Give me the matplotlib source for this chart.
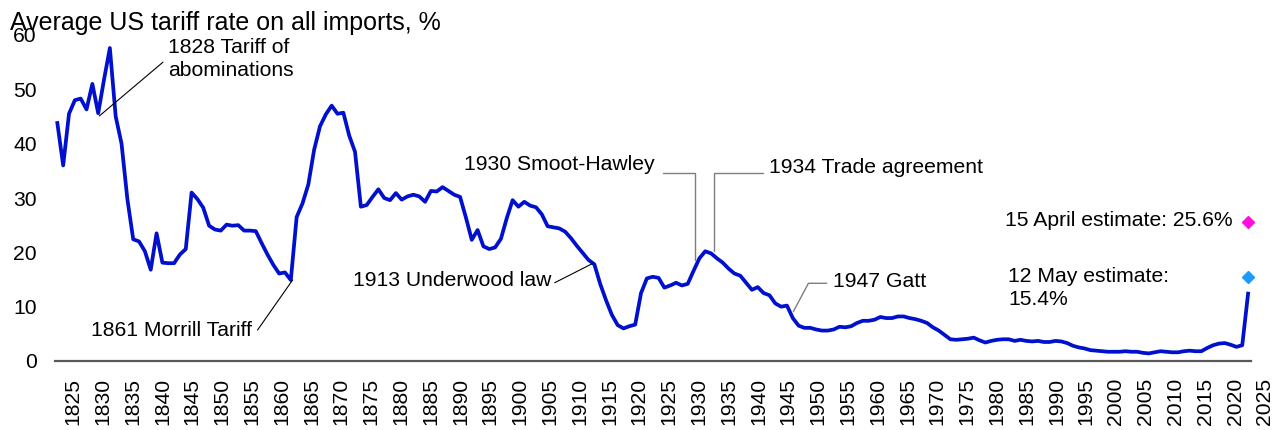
import numpy as np
import matplotlib.pyplot as plt

# Average US tariff rate on all imports, % (1821-2025)
years = np.arange(1821, 2026)
tariff = [
    43.8, 36.0, 45.5, 48.0, 48.3, 46.3, 51.0, 45.6, 51.8, 57.6,   # 1821-1830
    45.0, 40.0, 29.8, 22.4, 22.0, 20.2, 16.8, 23.5, 18.1, 18.0,   # 1831-1840
    18.0, 19.6, 20.6, 31.0, 29.8, 28.2, 24.9, 24.2, 24.0, 25.1,   # 1841-1850
    24.9, 25.0, 24.0, 24.0, 23.9, 21.7, 19.6, 17.7, 16.1, 16.3,   # 1851-1860
    14.9, 26.5, 29.0, 32.5, 38.9, 43.2, 45.4, 47.0, 45.5, 45.7,   # 1861-1870
    41.5, 38.5, 28.4, 28.7, 30.2, 31.6, 30.0, 29.6, 30.9, 29.7,   # 1871-1880
    30.3, 30.6, 30.3, 29.3, 31.3, 31.2, 32.0, 31.3, 30.6, 30.2,   # 1881-1890
    26.4, 22.3, 24.1, 21.1, 20.6, 20.9, 22.5, 26.3, 29.6, 28.4,   # 1891-1900
    29.3, 28.6, 28.3, 27.0, 24.8, 24.6, 24.4, 23.8, 22.6, 21.2,   # 1901-1910
    19.9, 18.6, 17.8, 14.2, 11.2, 8.5, 6.6, 6.0, 6.4, 6.7,        # 1911-1920
    12.5, 15.2, 15.5, 15.3, 13.5, 13.9, 14.4, 13.9, 14.2, 16.6,   # 1921-1930
    18.9, 20.2, 19.8, 18.9, 18.1, 17.0, 16.1, 15.7, 14.4, 13.1,   # 1931-1940
    13.6, 12.5, 12.1, 10.6, 10.0, 10.2, 7.9, 6.5, 6.1, 6.1,       # 1941-1950
    5.8, 5.6, 5.6, 5.8, 6.3, 6.2, 6.4, 7.0, 7.4, 7.4,             # 1951-1960
    7.6, 8.1, 7.9, 7.9, 8.2, 8.2, 7.9, 7.7, 7.4, 7.0,             # 1961-1970
    6.2, 5.6, 4.8, 4.0, 3.9, 4.0, 4.1, 4.3, 3.8, 3.4,             # 1971-1980
    3.7, 3.9, 4.0, 4.0, 3.7, 3.9, 3.7, 3.6, 3.7, 3.5,             # 1981-1990
    3.5, 3.7, 3.6, 3.3, 2.8, 2.5, 2.3, 2.0, 1.9, 1.8,             # 1991-2000
    1.7, 1.7, 1.7, 1.8, 1.7, 1.7, 1.5, 1.4, 1.6, 1.8,             # 2001-2010
    1.7, 1.6, 1.6, 1.8, 1.9, 1.8, 1.8, 2.4, 2.9, 3.2,             # 2011-2020
    3.3, 3.0, 2.6, 2.9, 12.4,                                     # 2021-2025
]

# 2025 estimates (diamonds)
estimate_year = 2025
estimate_values = [25.6, 15.4]
estimate_labels = ['15 April estimate: 25.6%', '12 May estimate:\n15.4%']
estimate_colors = ['#FF10D8', '#1A9BFF']

y_ticks = list(range(0, 61, 10))
x_ticks = list(range(1825, 2026, 5))

FS = 15.2
LINE_BLUE = '#0010CC'
GREY = '#7f7f7f'

plt.rcParams['font.family'] = ['Liberation Sans', 'DejaVu Sans']

W, H = 1276, 430
fig = plt.figure(figsize=(W / 100, H / 100), dpi=100)

# the year labels in the original sit on their own evenly spaced scale,
# slightly wider than the plotted series, so they get a frameless axes of their own
lab = fig.add_axes([55 / W, 1 - 361 / H, (W - 55) / W, (361 - 35) / H], frameon=False)
lab.set_xlim(1821.98, 2026.85)
lab.set_xticks(x_ticks)
lab.set_xticklabels([str(x) for x in x_ticks], rotation=90)
lab.set_yticks([])
lab.tick_params(axis='x', length=0, pad=12, labelsize=FS)

ax = fig.add_axes([55 / W, 1 - 361 / H, (1251 - 55) / W, (361 - 35) / H])
ax.patch.set_visible(False)

ax.plot(years, tariff, color=LINE_BLUE, lw=2.7, solid_joinstyle='round')
for val, col in zip(estimate_values, estimate_colors):
    ax.plot(estimate_year, val, 'D', color=col, ms=6.3, mec=col, clip_on=False, zorder=5)

ax.set_xlim(1820.6, 2025.5)
ax.set_ylim(0, 60)
ax.set_yticks(y_ticks)
ax.set_xticks([])
ax.tick_params(axis='y', length=0, pad=13, labelsize=FS)
for s in ['top', 'right', 'left']:
    ax.spines[s].set_visible(False)
ax.spines['bottom'].set_color('#595959')
ax.spines['bottom'].set_linewidth(1.6)

# annotations with thin black leader lines
thin = dict(arrowstyle='-', color='black', lw=0.8, shrinkA=0, shrinkB=0)
ax.annotate('', xy=(1828.2, 45.1), xytext=(1839.1, 55.0), arrowprops=thin)
ax.text(1840.0, 55.6, '1828 Tariff of\nabominations', ha='left', va='center',
        fontsize=FS, linespacing=1.25)

ax.annotate('', xy=(1861.3, 14.9), xytext=(1855.3, 5.7), arrowprops=thin)
ax.text(1854.4, 5.7, '1861 Morrill Tariff', ha='right', va='center', fontsize=FS)

ax.annotate('', xy=(1912.8, 18.0), xytext=(1906.2, 14.4), arrowprops=thin)
ax.text(1905.7, 14.8, '1913 Underwood law', ha='right', va='center', fontsize=FS)


# elbow leader lines in grey
def elbow(xy, xytext, angle_b):
    ax.annotate('', xy=xy, xytext=xytext,
                arrowprops=dict(arrowstyle='-', color=GREY, lw=1.0, shrinkA=0, shrinkB=0,
                                connectionstyle=f'angle,angleA=0,angleB={angle_b},rad=0'))


elbow((1930.2, 18.6), (1924.8, 34.6), 90)
ax.text(1923.4, 36.2, '1930 Smoot-Hawley', ha='right', va='center', fontsize=FS)

elbow((1933.5, 20.2), (1941.9, 34.6), 90)
ax.text(1942.9, 35.6, '1934 Trade agreement', ha='left', va='center', fontsize=FS)

elbow((1947.1, 9.1), (1952.8, 14.3), 62)
ax.text(1953.9, 14.6, '1947 Gatt', ha='left', va='center', fontsize=FS)

ax.text(2022.4, 25.8, estimate_labels[0], ha='right', va='center', fontsize=FS)
ax.text(1983.9, 13.5, estimate_labels[1], ha='left', va='center', fontsize=FS,
        linespacing=1.25)

fig.text(10 / W, 1 - 30 / H, 'Average US tariff rate on all imports, %',
         ha='left', va='baseline', fontsize=18)

fig.savefig('out.png', dpi=100)
